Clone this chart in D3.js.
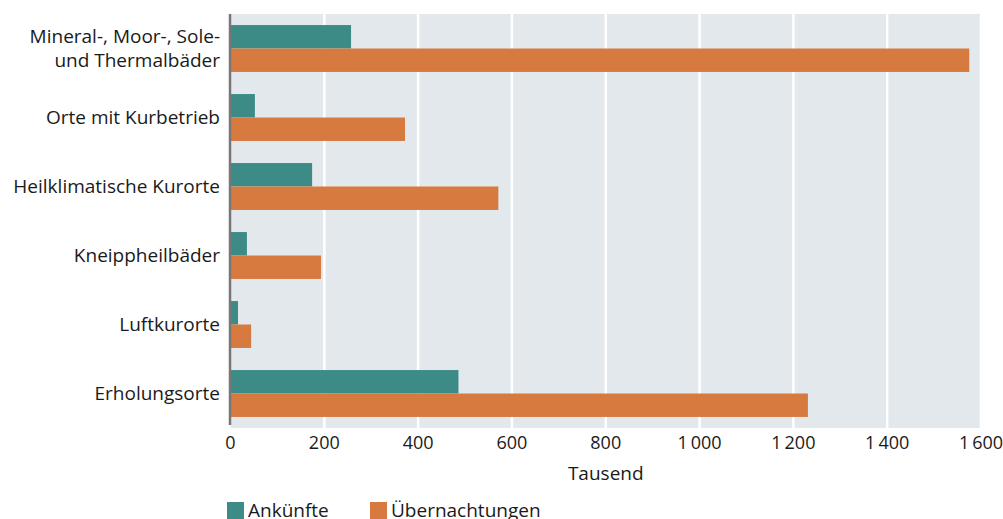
<!DOCTYPE html>
<html><head><meta charset="utf-8">
<script src="https://cdn.jsdelivr.net/npm/d3@7/dist/d3.min.js"></script>
<style>
body{margin:0;background:#fff;}
text{font-family:"Open Sans","Noto Sans",sans-serif;fill:#1a1a1a;}
</style></head>
<body><svg id="c" width="1003" height="519"></svg>
<script>
const categories = ["Mineral-, Moor-, Sole-|und Thermalbäder","Orte mit Kurbetrieb","Heilklimatische Kurorte","Kneippheilbäder","Luftkurorte","Erholungsorte"];
const seriesNames = ["Ankünfte","Übernachtungen"];
const ankuenfte = [257, 52, 174, 35, 16, 486];
const uebernachtungen = [1575, 372, 571, 193, 44, 1231];
const xTicks = [0,200,400,600,800,1000,1200,1400,1600];
const colors = ["#3d8b87","#d77a40"];

const svg = d3.select("#c");
const m = {left:230.5, right:22, top:14, bottom:91};
const W = 1003, H = 519;
const FS = 19, FT = 18;
const x = d3.scaleLinear().domain([0,1600]).range([m.left, W-m.right]);
const y = d3.scaleBand().domain(categories).range([m.top, H-m.bottom]).paddingInner(0.32).paddingOuter(0.16);
const ys = d3.scaleBand().domain(seriesNames).range([0, y.bandwidth()]);

svg.append("rect").attr("x",x(0)).attr("y",m.top).attr("width",x(1600)-x(0)).attr("height",H-m.bottom-m.top).attr("fill","#e3e8ec");

svg.append("g").selectAll("line").data(xTicks.slice(1)).join("line")
  .attr("x1",d=>x(d)).attr("x2",d=>x(d)).attr("y1",m.top).attr("y2",H-m.bottom)
  .attr("stroke","#fff").attr("stroke-width",2.5);

const data = categories.map((c,i)=>({c, vals:[ankuenfte[i], uebernachtungen[i]]}));
const g = svg.append("g").selectAll("g").data(data).join("g").attr("transform",d=>`translate(0,${y(d.c)})`);
g.selectAll("rect").data(d=>d.vals.map((v,j)=>({v,j}))).join("rect")
  .attr("x",x(0)).attr("y",d=>ys(seriesNames[d.j])).attr("height",ys.bandwidth())
  .attr("width",d=>x(d.v)-x(0)).attr("fill",d=>colors[d.j]);

// y axis line
svg.append("line").attr("x1",x(0)-0.5).attr("x2",x(0)-0.5).attr("y1",m.top).attr("y2",H-m.bottom-3)
  .attr("stroke","#777").attr("stroke-width",2.5);

// category labels
const lab = svg.append("g").selectAll("text").data(categories).join("text")
  .attr("text-anchor","end").attr("font-size",FS)
  .attr("transform",d=>`translate(220,${y(d)+y.bandwidth()/2})`);
lab.each(function(d){
  const parts = d.split("|");
  const t = d3.select(this);
  parts.forEach((p,k)=>{
    t.append("tspan").attr("x",0).attr("y",(k-(parts.length-1)/2)*24).attr("dy","0.35em").text(p);
  });
});

// x tick labels
const fmt = d => d>=1000 ? String(d).replace(/(\d)(\d{3})$/,"$1\u2009$2") : String(d);
svg.append("g").selectAll("text").data(xTicks).join("text")
  .attr("x",d=>x(d)).attr("y",443).attr("dy","0.35em").attr("text-anchor","middle")
  .attr("font-size",FT).text(fmt);

svg.append("text").attr("x",(x(0)+x(1600))/2).attr("y",473).attr("dy","0.35em")
  .attr("text-anchor","middle").attr("font-size",FS).text("Tausend");

// legend
const legX = [227, 370];
const lg = svg.append("g").selectAll("g").data(seriesNames).join("g")
  .attr("transform",(d,i)=>`translate(${legX[i]},502)`);
lg.append("rect").attr("width",17).attr("height",17).attr("fill",(d,i)=>colors[i]);
lg.append("text").attr("x",21).attr("y",15).attr("font-size",FS).text(d=>d);
</script></body></html>
